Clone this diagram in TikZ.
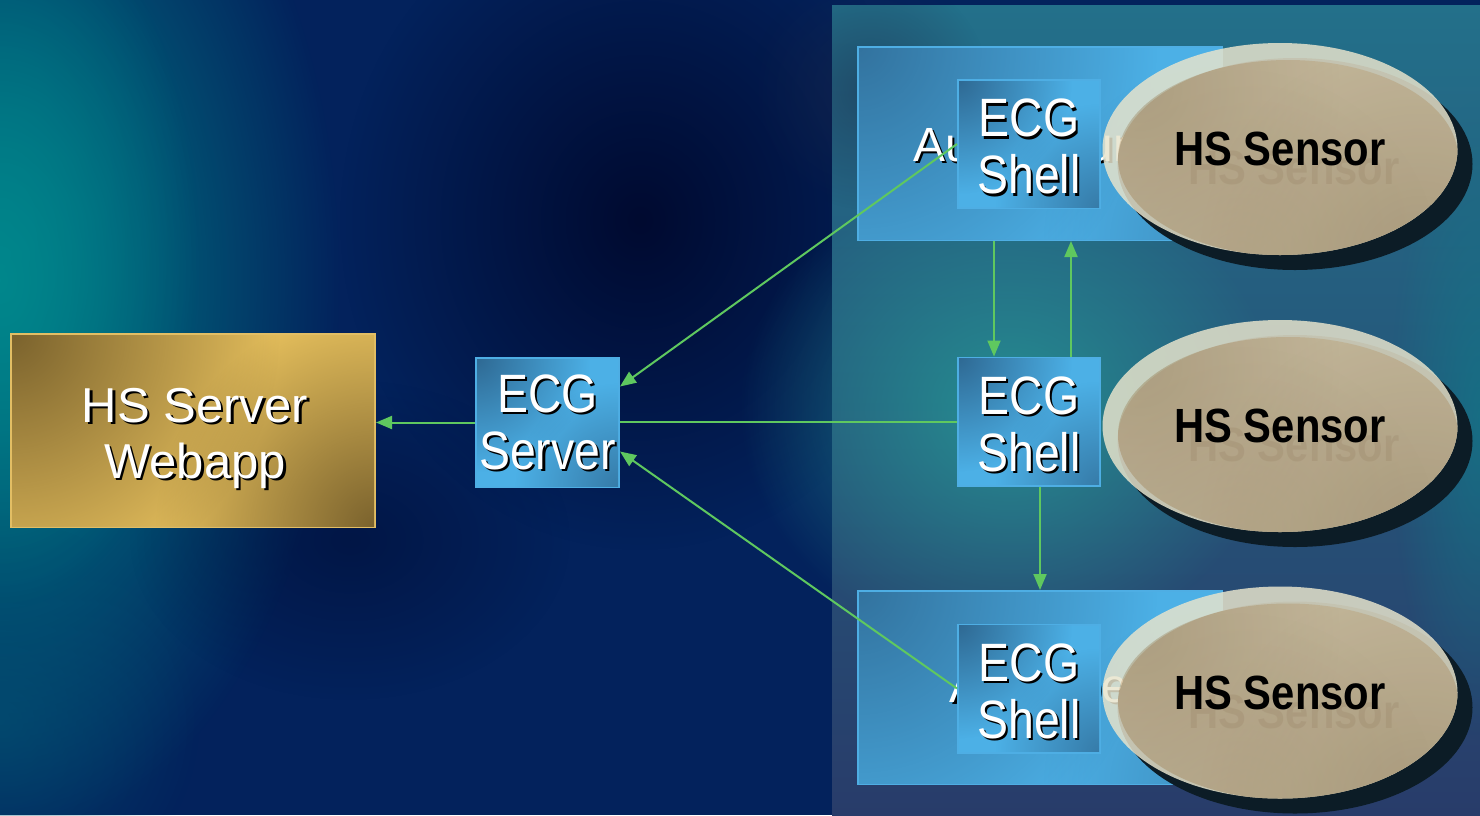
\documentclass[tikz,border=0pt]{standalone}
\usepackage{fontspec}
\setmainfont{Liberation Sans}
\usetikzlibrary{shapes.geometric,arrows.meta,fadings,calc}
\tikzfading[name=radfade, inner color=transparent!0, outer color=transparent!100]
\definecolor{bgnavy}{RGB}{3,34,92}
\definecolor{bgteal}{RGB}{0,135,140}
\definecolor{bgdark}{RGB}{0,10,48}
\definecolor{paneltop}{RGB}{35,112,138}
\definecolor{panelbot}{RGB}{40,60,106}
\definecolor{panelhi}{RGB}{38,152,150}
\definecolor{boxborder}{RGB}{78,174,228}
\definecolor{boxlight}{RGB}{76,176,230}
\definecolor{boxdark}{RGB}{46,104,146}
\definecolor{golddark}{RGB}{122,98,45}
\definecolor{goldlight}{RGB}{228,190,92}
\definecolor{goldborder}{RGB}{226,190,100}
\definecolor{ellrim}{RGB}{232,228,204}
\definecolor{ellbody}{RGB}{228,210,174}
\definecolor{ellbodyd}{RGB}{190,168,130}
\definecolor{ellshadow}{RGB}{12,28,38}
\definecolor{arrgreen}{RGB}{95,200,95}
\definecolor{sensorshade}{RGB}{150,128,98}
\newcommand\wsh[1]{\scalebox{0.86}[1]{\rlap{\kern2.5pt\raisebox{-2.5pt}{\color{black}#1}}{\color{white}#1}}}
\newcommand\wshn[1]{\rlap{\kern2.5pt\raisebox{-2.5pt}{\color{black}#1}}{\color{white}#1}}
\newcommand\sensortxt[1]{\scalebox{0.87}[1]{\bfseries #1}}
% corner shading overlay: node, colour, r1, op1, r2, op2
\newcommand\cornershade[6]{%
  \begin{scope}
    \clip ([shift={(2pt,2pt)}]#1.south west) rectangle ([shift={(-2pt,-2pt)}]#1.north east);
    \fill[#2, path fading=radfade, fill opacity=#4] (#1.north west) circle (#3);
    \fill[#2, path fading=radfade, fill opacity=#6] (#1.south east) circle (#5);
  \end{scope}}
\begin{document}
\begin{tikzpicture}[x=1pt,y=1pt,
  ecgbox/.style={draw=boxborder, line width=2pt, fill=boxlight,
     minimum width=142pt, minimum height=128pt, inner sep=0pt},
  ecgtext/.style={align=center, inner sep=0pt, font=\fontsize{54}{57}\selectfont},
  bigbox/.style={draw=boxborder, line width=2pt, fill=boxlight,
     minimum width=364pt, minimum height=193pt, inner sep=0pt},
  goldbox/.style={draw=goldborder, line width=2pt, fill=goldlight,
     minimum width=364pt, minimum height=193pt, inner sep=0pt},
  goldtext/.style={anchor=base, font=\fontsize{49}{56}\selectfont, inner sep=0pt},
  hidtext/.style={anchor=base, font=\fontsize{48}{56}\selectfont, inner sep=0pt},
  ellshadow/.style={ellipse, fill=ellshadow, minimum width=355pt, minimum height=212pt, inner sep=0pt},
  ellouter/.style={ellipse, fill=ellrim, minimum width=355pt, minimum height=212pt, inner sep=0pt},
  stxt/.style={anchor=base, font=\fontsize{48}{56}\selectfont, inner sep=0pt},
  stxtsh/.style={anchor=base, font=\fontsize{48}{56}\selectfont, inner sep=0pt, text=sensorshade, text opacity=0.25},
  conn/.style={draw=arrgreen, line width=2pt},
  arr/.style={conn, -{Triangle[length=16pt,width=13pt]}}
]
\useasboundingbox (0,-815) rectangle (1480,0);
% background
\fill[bgnavy] (0,-815) rectangle (1480,0);
\fill[bgteal, path fading=radfade] (0,-280) ellipse [x radius=340, y radius=560];
\fill[bgteal, path fading=radfade, fill opacity=0.7] (0,-250) ellipse [x radius=200, y radius=360];
\fill[bgteal!50!bgnavy, path fading=radfade, fill opacity=0.6] (0,-720) ellipse [x radius=200, y radius=200];
\fill[bgdark, path fading=radfade] (640,-220) ellipse [x radius=300, y radius=330];
\fill[bgdark, path fading=radfade, fill opacity=0.5] (350,-540) ellipse [x radius=220, y radius=160];
% right panel
\shade[top color=paneltop, bottom color=panelbot] (832,-815) rectangle (1480,-5);
\fill[panelhi, path fading=radfade, fill opacity=0.85] (1010,-410) ellipse [x radius=270, y radius=240];
\fill[panelbot!70!black, path fading=radfade, fill opacity=0.5] (870,-90) circle (120);
\fill[bgteal!60!paneltop, path fading=radfade, fill opacity=0.6] (1480,-420) ellipse [x radius=90, y radius=320];

% big boxes and their hidden texts
\node[bigbox] (big1) at (1040,-143.5) {};
\cornershade{big1}{boxdark}{300pt}{0.85}{180pt}{0.45}
\node[hidtext] (t1) at (1040,-161) {\wshn{Auswertung}};
\node[bigbox] (big3) at (1040,-687.5) {};
\cornershade{big3}{boxdark}{300pt}{0.85}{180pt}{0.45}
\node[hidtext] (t3) at (1039,-702) {\wshn{Antriebe}};

% ECG boxes
\foreach \nm/\px/\py in {sh1/1029/-144, sh2/1029/-421.5, sh3/1029/-688.5}{
  \node[ecgbox] (\nm) at (\px,\py) {};
  \cornershade{\nm}{boxdark}{115pt}{1}{105pt}{0.75}
}
\node[ecgtext] (sh1t) at ([yshift=-4pt]sh1.center) {\wsh{ECG}\\\wsh{Shell}};
\node[ecgtext] (sh2t) at ([yshift=-4pt]sh2.center) {\wsh{ECG}\\\wsh{Shell}};
\node[ecgtext] (sh3t) at ([yshift=-4pt]sh3.center) {\wsh{ECG}\\\wsh{Shell}};
\node[ecgbox, minimum width=143pt, minimum height=129pt] (srv) at (547.5,-422.5) {};
\cornershade{srv}{boxdark}{115pt}{1}{105pt}{0.75}
\node[ecgtext] (srvt) at ([yshift=-1pt]srv.center) {\wsh{ECG}\\\wsh{Server}};
\node[goldbox] (web) at (193,-430.5) {};
\cornershade{web}{golddark}{270pt}{1}{220pt}{1}
\node[goldtext] (w1) at (195,-422) {\wshn{HS Server}};
\node[goldtext] (w2) at (195,-478) {\wshn{Webapp}};

% sensors
\foreach \n/\cy/\by in {1/-149/-165, 2/-426/-442, 3/-692.5/-709}{
  \node[ellshadow] (es\n) at (1295,\cy-15) {};
  \begin{scope}[transparency group, opacity=0.84]
    \node[ellouter] (e\n) at (1280,\cy) {};
    \begin{scope}
      \clip (1280,\cy) ellipse [x radius=177.5, y radius=106];
      \fill[ellbody] (1288,\cy-9) ellipse [x radius=170, y radius=98];
      \clip (1288,\cy-9) ellipse [x radius=170, y radius=98];
      \fill[ellbodyd, path fading=radfade, fill opacity=0.6] (1140,\cy+60) circle (200);
      \fill[ellbodyd, path fading=radfade, fill opacity=0.7] (1420,\cy-110) circle (220);
      \fill[ellbodyd, path fading=radfade, fill opacity=0.4] (1240,\cy-120) circle (200);
    \end{scope}
  \end{scope}
  \node[stxtsh] (ss\n) at (1294,\by-19) {\sensortxt{HS Sensor}};
  \node[stxt] (s\n) at (1280,\by) {\sensortxt{HS Sensor}};
}

% connectors
\draw[arr] (srv.west) -- (srv.west -| web.east);
\draw[conn] (sh2.west) -- (sh2.west -| srv.east);
\draw[arr] (sh1.west) -- ([yshift=36pt]srv.east);
\draw[arr] (sh3.west) -- ([yshift=-29pt]srv.east);
\draw[arr] ([xshift=-35pt]sh2.north |- big1.south) -- ([xshift=-35pt]sh2.north);
\draw[arr] ([xshift=42pt]sh2.north) -- ([xshift=42pt]sh2.north |- big1.south);
\draw[arr] ([xshift=11pt]sh2.south) -- ([xshift=11pt]sh2.south |- big3.north);
\end{tikzpicture}
\end{document}
